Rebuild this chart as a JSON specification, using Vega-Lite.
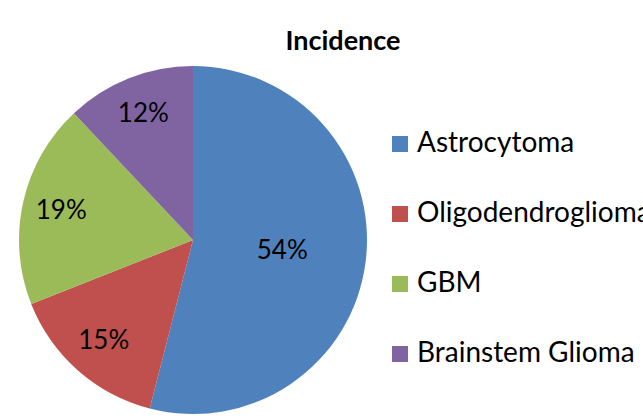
{
  "$schema": "https://vega.github.io/schema/vega-lite/v6.json",
  "autosize": {"type": "none"},
  "width": 386,
  "height": 348,
  "padding": {"left": 0, "top": 66, "right": 257, "bottom": 4},
  "background": "white",
  "config": {"view": {"stroke": null}, "font": "Lato"},
  "title": {
    "text": "Incidence",
    "font": "Lato",
    "fontSize": 27,
    "fontWeight": "bold",
    "color": "black",
    "anchor": "middle",
    "dx": 150,
    "offset": 10
  },
  "data": {
    "values": [
      {"type": "Astrocytoma", "pct": 54},
      {"type": "Oligodendroglioma", "pct": 15},
      {"type": "GBM", "pct": 19},
      {"type": "Brainstem Glioma", "pct": 12}
    ]
  },
  "transform": [
    {"calculate": "indexof(['Astrocytoma','Oligodendroglioma','GBM','Brainstem Glioma'], datum.type)", "as": "ord"},
    {"calculate": "datum.pct + '%'", "as": "label"}
  ],
  "encoding": {
    "theta": {"field": "pct", "type": "quantitative", "stack": true},
    "order": {"field": "ord", "type": "quantitative"},
    "color": {
      "field": "type",
      "type": "nominal",
      "sort": ["Astrocytoma", "Oligodendroglioma", "GBM", "Brainstem Glioma"],
      "scale": {
        "domain": ["Astrocytoma", "Oligodendroglioma", "GBM", "Brainstem Glioma"],
        "range": ["#4F81BD", "#C0504D", "#9BBB59", "#8064A2"]
      },
      "legend": {
        "title": null,
        "orient": "none",
        "legendX": 386,
        "legendY": 64,
        "symbolType": "square",
        "symbolSize": 256,
        "symbolStrokeWidth": 0,
        "symbolOpacity": 1,
        "labelFont": "Lato",
        "labelFontSize": 28,
        "labelColor": "black",
        "labelOffset": 3,
        "labelLimit": 400,
        "rowPadding": 42
      }
    }
  },
  "layer": [
    {"mark": {"type": "arc", "outerRadius": 174}},
    {
      "mark": {"type": "text", "radius": 90, "font": "Lato", "fontSize": 26, "color": "black"},
      "encoding": {
        "text": {"condition": {"test": "datum.type == 'Astrocytoma'", "field": "label"}, "value": ""},
        "color": {"value": "black"}
      }
    },
    {
      "mark": {"type": "text", "radius": 135, "font": "Lato", "fontSize": 26, "color": "black"},
      "encoding": {
        "text": {"condition": {"test": "datum.type != 'Astrocytoma'", "field": "label"}, "value": ""},
        "color": {"value": "black"}
      }
    }
  ]
}
